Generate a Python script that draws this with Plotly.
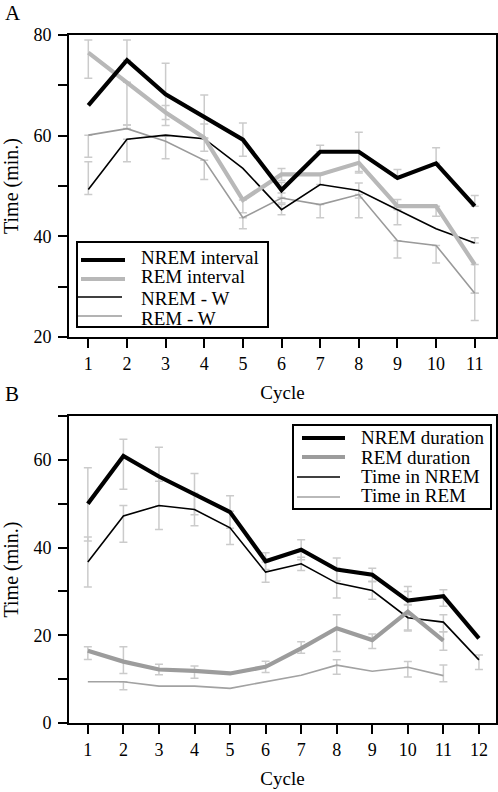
import plotly.graph_objects as go

# ---------------- Panel A data ----------------
cycles_a = [1, 2, 3, 4, 5, 6, 7, 8, 9, 10, 11]
nrem_interval = [66.0, 75.0, 68.2, 63.8, 59.2, 49.2, 56.8, 56.8, 51.6, 54.5, 46.0]
rem_interval = [76.5, 70.6, 64.6, 59.6, 47.2, 52.3, 52.3, 54.6, 46.0, 46.0, 34.4]
nrem_w = [49.3, 59.3, 60.1, 59.4, 53.5, 45.3, 50.3, 49.1, 45.3, 41.5, 38.7]
rem_w = [60.1, 61.4, 58.9, 55.1, 43.7, 47.6, 46.3, 48.3, 39.1, 38.2, 28.7]

nrem_interval_err_plus = [0, 4.0, 6.2, 4.3, 3.3, 1.5, 1.3, 3.9, 1.7, 3.1, 2.1]
nrem_interval_err_minus = [0, 0, 6.2, 4.3, 3.3, 1.5, 0, 3.9, 0, 0, 0]
rem_interval_err_plus = [2.5, 0, 1.4, 2.7, 0, 1.2, 0, 2.0, 1.3, 0, 0]
rem_interval_err_minus = [5.1, 8.5, 1.4, 0, 2.5, 1.2, 2.0, 2.0, 0, 2.0, 5.7]
nrem_w_err_plus = [5.5, 0, 0, 0, 0, 1.0, 0, 1.5, 0, 0, 1.0]
nrem_w_err_minus = [1.0, 4.5, 0, 2.5, 0, 1.0, 0, 1.5, 3.0, 0, 0]
rem_w_err_plus = [0, 0.7, 1.0, 0, 0, 1.0, 0, 0, 0, 0, 0]
rem_w_err_minus = [4.4, 0, 3.5, 3.8, 2.2, 1.0, 2.6, 4.6, 3.4, 3.5, 5.4]

# ---------------- Panel B data ----------------
cycles_b = [1, 2, 3, 4, 5, 6, 7, 8, 9, 10, 11, 12]
cycles_b_rem = [1, 2, 3, 4, 5, 6, 7, 8, 9, 10, 11]
nrem_duration = [50.0, 60.9, 56.2, 52.2, 48.1, 36.9, 39.5, 35.0, 33.8, 27.9, 28.9, 19.3]
rem_duration = [16.5, 14.0, 12.2, 11.9, 11.3, 12.8, 17.0, 21.6, 18.9, 25.4, 18.8]
time_in_nrem = [36.7, 47.2, 49.6, 48.7, 44.5, 34.4, 36.3, 31.9, 30.2, 24.0, 23.0, 14.4]
time_in_rem = [9.4, 9.4, 8.4, 8.4, 7.9, 9.4, 10.9, 13.2, 11.8, 12.7, 10.8]

nrem_duration_err_plus = [8.2, 3.8, 6.7, 4.7, 3.7, 1.9, 2.3, 2.6, 1.5, 3.2, 1.5, 0]
nrem_duration_err_minus = [8.5, 7.6, 6.7, 4.7, 3.7, 1.9, 2.3, 2.6, 1.5, 1.0, 2.3, 0]
time_in_nrem_err_plus = [5.7, 2.4, 5.5, 3.7, 3.8, 2.3, 1.5, 3.4, 2.0, 3.0, 1.7, 1.1]
time_in_nrem_err_minus = [5.7, 6.0, 5.5, 3.7, 3.8, 2.3, 1.5, 3.4, 2.0, 3.0, 2.2, 2.2]
rem_duration_err_plus = [0.9, 3.4, 1.2, 1.1, 0, 1.3, 1.5, 3.1, 1.4, 4.6, 2.0]
rem_duration_err_minus = [2.0, 2.7, 1.2, 1.7, 0, 1.3, 1.1, 5.3, 1.9, 4.2, 2.2]
time_in_rem_err_plus = [0, 0, 0, 0, 0, 0, 0, 1.2, 0, 1.3, 2.4]
time_in_rem_err_minus = [0, 1.8, 0, 0, 0, 0, 0, 2.1, 0, 2.2, 1.4]

FONT = "Liberation Serif"
ERR_COLOR = "#cbcbcb"
W, H = 498, 792

fig = go.Figure()


def add_err(x, y, plus, minus, xa, ya):
    pts = [(a, b, p, m) for a, b, p, m in zip(x, y, plus, minus) if p > 0 or m > 0]
    fig.add_trace(go.Scatter(
        x=[p[0] for p in pts], y=[p[1] for p in pts], mode="markers",
        marker=dict(size=1, color="rgba(0,0,0,0)"), showlegend=False, hoverinfo="skip",
        error_y=dict(type="data", symmetric=False, array=[p[2] for p in pts],
                     arrayminus=[p[3] for p in pts], color=ERR_COLOR, thickness=1.5, width=4),
        xaxis=xa, yaxis=ya))


def add_line(x, y, color, width, name, xa, ya):
    fig.add_trace(go.Scatter(x=x, y=y, mode="lines", line=dict(color=color, width=width),
                             name=name, showlegend=False, xaxis=xa, yaxis=ya))


# Panel A
add_err(cycles_a, rem_interval, rem_interval_err_plus, rem_interval_err_minus, "x", "y")
add_err(cycles_a, nrem_interval, nrem_interval_err_plus, nrem_interval_err_minus, "x", "y")
add_err(cycles_a, nrem_w, nrem_w_err_plus, nrem_w_err_minus, "x", "y")
add_err(cycles_a, rem_w, rem_w_err_plus, rem_w_err_minus, "x", "y")

A_REMI = "#b8b8b8"
A_REMW = "#9a9a9a"
add_line(cycles_a, rem_w, A_REMW, 1.6, "REM - W", "x", "y")
add_line(cycles_a, nrem_w, "black", 1.6, "NREM - W", "x", "y")
add_line(cycles_a, rem_interval, A_REMI, 4.2, "REM interval", "x", "y")
add_line(cycles_a, nrem_interval, "black", 4.2, "NREM interval", "x", "y")

# Panel B
add_err(cycles_b, nrem_duration, nrem_duration_err_plus, nrem_duration_err_minus, "x2", "y2")
add_err(cycles_b, time_in_nrem, time_in_nrem_err_plus, time_in_nrem_err_minus, "x2", "y2")
add_err(cycles_b_rem, rem_duration, rem_duration_err_plus, rem_duration_err_minus, "x2", "y2")
add_err(cycles_b_rem, time_in_rem, time_in_rem_err_plus, time_in_rem_err_minus, "x2", "y2")

B_REMD = "#9c9c9c"
B_TREM = "#a2a2a2"
add_line(cycles_b_rem, time_in_rem, B_TREM, 1.6, "Time in REM", "x2", "y2")
add_line(cycles_b, time_in_nrem, "black", 1.6, "Time in NREM", "x2", "y2")
add_line(cycles_b_rem, rem_duration, B_REMD, 4.2, "REM duration", "x2", "y2")
add_line(cycles_b, nrem_duration, "black", 4.2, "NREM duration", "x2", "y2")

px_x = lambda v: v / W
px_y = lambda v: 1 - v / H

axis_common = dict(showline=True, linewidth=2, linecolor="black", mirror=True,
                   ticks="outside", ticklen=9, tickwidth=2, tickcolor="black",
                   showgrid=False, zeroline=False, automargin=False,
                   tickfont=dict(family=FONT, size=18, color="black"))

xtitle = lambda: dict(text="Cycle", font=dict(family=FONT, size=19), standoff=13)
ytitle = lambda: dict(text="Time (min.)", font=dict(family=FONT, size=20), standoff=14)
yminor = lambda: dict(ticks="outside", dtick=10, tick0=0, ticklen=9, tickwidth=2, tickcolor="black")

fig.update_layout(
    template="none",
    width=W, height=H, margin=dict(l=0, r=0, t=0, b=0, autoexpand=False),
    paper_bgcolor="white", plot_bgcolor="white", showlegend=False,
    font=dict(family=FONT, size=18, color="black"),
    xaxis=dict(domain=[px_x(69), px_x(496)], range=[0.5, 11.55], tickvals=cycles_a,
               anchor="y", title=xtitle(), **axis_common),
    yaxis=dict(domain=[px_y(337), px_y(35)], range=[20, 80], tick0=0, dtick=20,
               anchor="x", title=ytitle(), minor=yminor(), ticklabelstandoff=3, **axis_common),
    xaxis2=dict(domain=[px_x(69), px_x(496)], range=[0.47, 12.48], tickvals=cycles_b,
                anchor="y2", title=xtitle(), **axis_common),
    yaxis2=dict(domain=[px_y(723), px_y(416)], range=[0, 70], tick0=0, dtick=20,
                anchor="x2", title=ytitle(), minor=yminor(), ticklabelstandoff=3, **axis_common),
)

shapes = []
annotations = []

# Panel letters
annotations.append(dict(text="A", x=px_x(3), y=px_y(13), xref="paper", yref="paper",
                        xanchor="left", yanchor="middle", showarrow=False,
                        font=dict(family=FONT, size=21, color="black")))
annotations.append(dict(text="B", x=px_x(3), y=px_y(394), xref="paper", yref="paper",
                        xanchor="left", yanchor="middle", showarrow=False,
                        font=dict(family=FONT, size=21, color="black")))


def legend_box(x0, y0, x1, y1, entries, line_x0_thick, line_x0_thin, line_len, text_x):
    shapes.append(dict(type="rect", xref="paper", yref="paper",
                       x0=px_x(x0), x1=px_x(x1), y0=px_y(y1), y1=px_y(y0),
                       line=dict(color="black", width=2), fillcolor="white", layer="above"))
    for label, color, width, ly, ty in entries:
        lx0 = line_x0_thick if width > 2 else line_x0_thin
        shapes.append(dict(type="line", xref="paper", yref="paper",
                           x0=px_x(lx0), x1=px_x(lx0 + line_len), y0=px_y(ly), y1=px_y(ly),
                           line=dict(color=color, width=width), layer="above"))
        annotations.append(dict(text=label, x=px_x(text_x), y=px_y(ty), xref="paper", yref="paper",
                                xanchor="left", yanchor="middle", showarrow=False,
                                font=dict(family=FONT, size=19, color="black")))


legend_box(77, 242, 268, 327, [
    ("NREM interval", "black", 4.2, 260, 258),
    ("REM interval", A_REMI, 4.2, 279, 277),
    ("NREM - W", "black", 1.6, 297, 298),
    ("REM - W", A_REMW, 1.6, 316, 318),
], 81, 78, 44, 139)

legend_box(293, 425, 491, 509, [
    ("NREM duration", "black", 4.2, 438, 438),
    ("REM duration", B_REMD, 4.2, 457, 457),
    ("Time in NREM", "black", 1.6, 477, 476),
    ("Time in REM", B_TREM, 1.6, 497, 495),
], 302, 297, 43, 359)

fig.update_layout(shapes=shapes, annotations=annotations)

fig.write_html("out.html", config={"displayModeBar": False},
               post_script="document.body.style.margin='0px';document.body.style.overflow='hidden';")
